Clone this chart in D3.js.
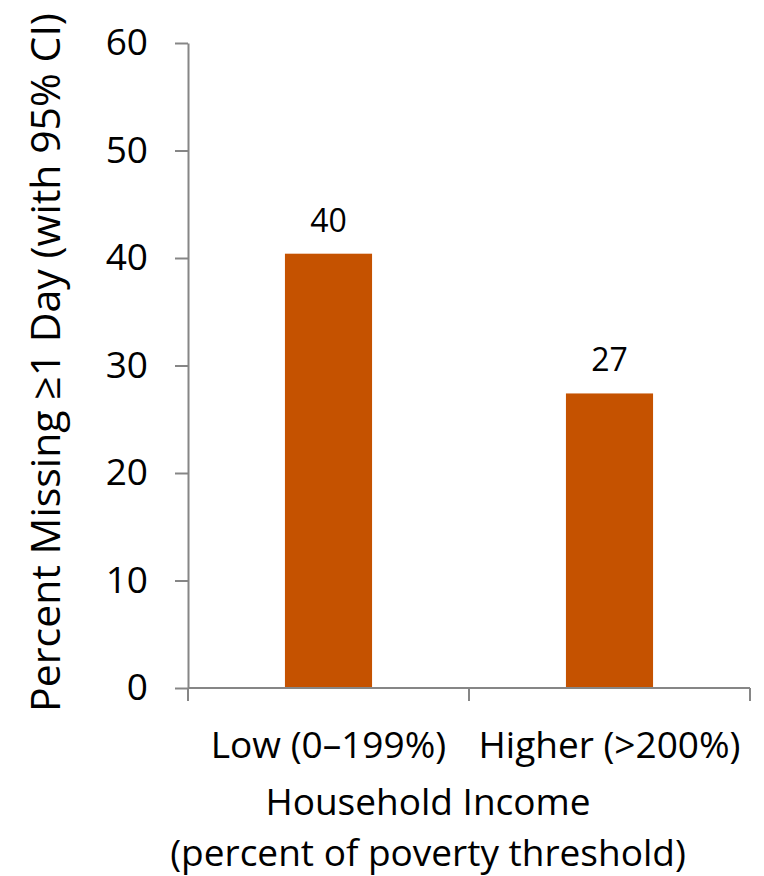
<!DOCTYPE html>
<html>
<head>
<meta charset="utf-8">
<script src="https://cdn.jsdelivr.net/npm/d3@7/dist/d3.min.js"></script>
<style>
  html, body { margin: 0; padding: 0; background: #ffffff; }
  svg { display: block; font-family: "Open Sans", "Noto Sans", sans-serif; }
</style>
</head>
<body>
<svg id="chart" width="764" height="876"></svg>
<script>
// Share of students missing at least one school day, by household income
const categories = ["Low (0\u2013199%)", "Higher (>200%)"];
const values = [40.4, 27.4];
const yTicks = [0, 10, 20, 30, 40, 50, 60];
const yTitle = "Percent Missing \u22651 Day (with 95% CI)";
const xTitleLines = ["Household Income", "(percent of poverty threshold)"];

const svg = d3.select("#chart");
const plot = { left: 188, right: 750, top: 43, bottom: 688 };
const axisColor = "#868686";
const barColor = "#c55200";

const x = d3.scaleBand()
  .domain(categories)
  .range([plot.left, plot.right])
  .paddingInner(0.69)
  .paddingOuter(0.345);

const y = d3.scaleLinear()
  .domain([0, 60])
  .range([plot.bottom, plot.top]);

// Bars
svg.append("g")
  .selectAll("rect")
  .data(values)
  .join("rect")
  .attr("x", (d, i) => x(categories[i]))
  .attr("y", d => y(d))
  .attr("width", x.bandwidth())
  .attr("height", d => y(0) - y(d))
  .attr("fill", barColor);

// Value labels
svg.append("g")
  .selectAll("text")
  .data(values)
  .join("text")
  .attr("x", (d, i) => x(categories[i]) + x.bandwidth() / 2)
  .attr("y", d => y(d) - 22)
  .attr("text-anchor", "middle")
  .attr("font-size", 32)
  .attr("fill", "#000")
  .text(d => d3.format(".0f")(d));

// Y axis
const yAxis = svg.append("g")
  .attr("transform", `translate(${plot.left},0)`)
  .call(d3.axisLeft(y).tickValues(yTicks).tickSize(13).tickSizeOuter(0).tickPadding(27));
yAxis.select(".domain").attr("stroke", axisColor).attr("stroke-width", 2);
yAxis.selectAll(".tick line").attr("stroke", axisColor).attr("stroke-width", 2);
yAxis.selectAll(".tick text")
  .attr("font-size", 37)
  .attr("font-family", "\"Open Sans\", sans-serif")
  .attr("fill", "#000");

// X axis: baseline with ticks at category boundaries
const step = x.step();
const boundaries = d3.range(categories.length + 1).map(i => plot.left + i * step);
const xAxis = svg.append("g");
xAxis.append("line")
  .attr("x1", plot.left).attr("x2", plot.right)
  .attr("y1", y(0)).attr("y2", y(0))
  .attr("stroke", axisColor).attr("stroke-width", 2);
xAxis.selectAll("line.tick")
  .data(boundaries)
  .join("line")
  .attr("class", "tick")
  .attr("x1", d => d).attr("x2", d => d)
  .attr("y1", y(0)).attr("y2", y(0) + 13)
  .attr("stroke", axisColor).attr("stroke-width", 2);
xAxis.selectAll("text")
  .data(categories)
  .join("text")
  .attr("x", d => x(d) + x.bandwidth() / 2)
  .attr("y", 758)
  .attr("text-anchor", "middle")
  .attr("font-size", 37)
  .attr("fill", "#000")
  .text(d => d);

// X axis title
svg.append("g")
  .selectAll("text")
  .data(xTitleLines)
  .join("text")
  .attr("x", 428)
  .attr("y", (d, i) => 815 + i * 51)
  .attr("text-anchor", "middle")
  .attr("font-size", 37)
  .attr("fill", "#000")
  .text(d => d);

// Y axis title
svg.append("text")
  .attr("transform", `translate(60,${(plot.top + plot.bottom) / 2 - 3}) rotate(-90)`)
  .attr("text-anchor", "middle")
  .attr("font-size", 41)
  .attr("fill", "#000")
  .text(yTitle);
</script>
</body>
</html>
